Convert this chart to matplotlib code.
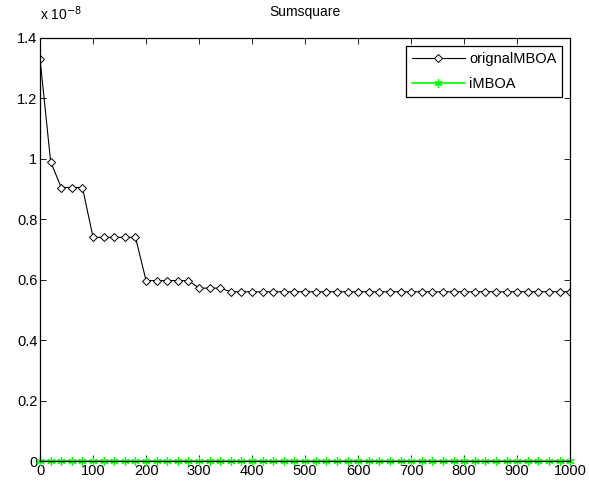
import numpy as np
import matplotlib.pyplot as plt

plt.rcParams['font.family'] = ['Liberation Sans', 'DejaVu Sans']

# iterations where markers are drawn
iters = list(range(0, 1001, 20))

# best fitness, in units of 1e-8
orig = ([1.33, 0.99, 0.905, 0.905, 0.905]
        + [0.74] * 5
        + [0.597] * 5
        + [0.572] * 3
        + [0.56] * 33)
improved = [0.0] * len(iters)

xticks = list(range(0, 1001, 100))
yticks = [0, 0.2, 0.4, 0.6, 0.8, 1.0, 1.2, 1.4]
yticklabels = ['0', '0.2', '0.4', '0.6', '0.8', '1', '1.2', '1.4']

fig = plt.figure(figsize=(5.89, 4.86), dpi=100)
ax = fig.add_axes([0.068, 0.0514, 0.9, 0.8706])

ax.plot(iters, orig, color='black', linewidth=0.8, marker='D', markersize=4,
        markerfacecolor='white', markeredgecolor='black', markeredgewidth=0.7,
        label='orignalMBOA')
ax.plot(iters, improved, color='#00ff00', linewidth=1.2, marker=(6, 2, 0), markersize=6,
        markeredgewidth=0.9, label='iMBOA', clip_on=False)

ax.set_xlim(0, 1000)
ax.set_ylim(0, 1.4)
ax.set_xticks(xticks)
ax.set_yticks(yticks)
ax.set_yticklabels(yticklabels)
ax.tick_params(direction='in', top=True, right=True, labelsize=10.5, length=4, width=0.6,
               pad=2)
for s in ax.spines.values():
    s.set_linewidth(0.9)

ax.set_title('Sumsquare', fontsize=10, pad=16)
ax.text(0, 1.035, 'x 10$^{-8}$', transform=ax.transAxes, fontsize=10,
        ha='left', va='bottom')

leg = ax.legend(loc='upper right', fontsize=10.5, fancybox=False, framealpha=1,
                edgecolor='black', borderaxespad=0.55, handlelength=3.6, numpoints=1,
                handletextpad=0.3, borderpad=0.4, labelspacing=0.75)
leg.get_frame().set_linewidth(0.9)

fig.savefig('out.png', dpi=100)
